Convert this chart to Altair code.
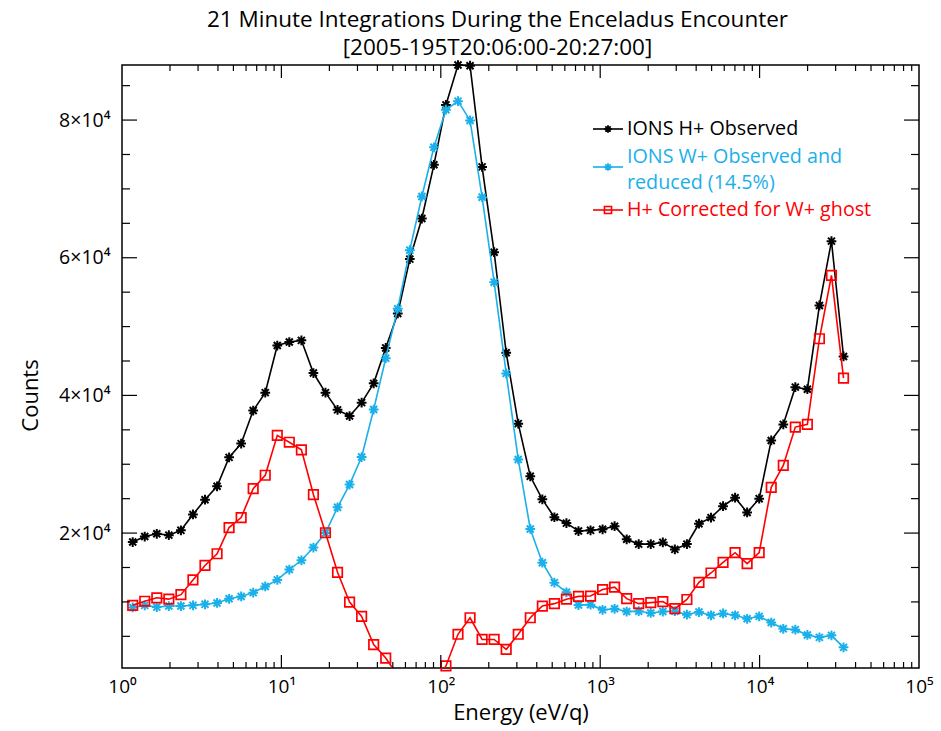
import altair as alt
import pandas as pd

# ---------------- data ----------------
energy = [1.167, 1.389, 1.653, 1.967, 2.342, 2.787, 3.317, 3.948, 4.697, 5.591,
          6.653, 7.919, 9.423, 11.21, 13.35, 15.88, 18.90, 22.50, 26.77, 31.86,
          37.92, 45.13, 53.70, 63.91, 76.06, 90.52, 107.7, 128.2, 152.6, 181.6,
          216.1, 257.2, 306.1, 364.2, 433.5, 515.9, 614.0, 730.7, 869.6, 1035,
          1231, 1466, 1744, 2076, 2471, 2940, 3499, 4165, 4955, 5897,
          7018, 8352, 9940, 11830, 14080, 16750, 19940, 23730, 28240, 33610]

h_observed = [18700, 19500, 19900, 19700, 20400, 22700, 24850, 26800, 31000, 33000,
              37800, 40400, 47250, 47750, 48000, 43250, 40400, 37900, 37000, 38950,
              41750, 46900, 51900, 59800, 65700, 73500, 82200, 88000, 87900, 73200,
              60800, 46200, 35900, 28250, 24900, 22300, 21450, 20300, 20400, 20550,
              21000, 19100, 18400, 18400, 18650, 17630, 18400, 21360, 22250, 23900,
              25140, 23000, 25000, 33460, 35790, 41200, 40900, 53070, 62410, 45660]

w_reduced = [9200, 9500, 9250, 9400, 9400, 9500, 9650, 9850, 10450, 10800,
             11350, 12250, 13200, 14700, 16050, 17900, 20000, 23750, 27050, 31050,
             37950, 45400, 52600, 61100, 68900, 76050, 81500, 82750, 79950, 68800,
             56450, 43200, 30700, 20600, 15700, 12800, 11400, 9550, 9600, 8850,
             9000, 8600, 8650, 8400, 8600, 8650, 8150, 8530, 8050, 8330,
             8050, 7550, 7900, 7000, 6100, 5970, 5200, 4850, 5140, 3400]

h_corrected = [9500, 10100, 10600, 10400, 11050, 13200, 15300, 17000, 20800, 22250,
               26450, 28400, 34200, 33200, 32100, 25600, 20050, 14300, 9980, 7900,
               3800, 1840, -700, -1300, -3200, -2500, 700, 5300, 7700, 4550,
               4550, 3100, 5300, 7700, 9400, 9750, 10400, 10800, 10850, 11800,
               12150, 10470, 9750, 9900, 10050, 9020, 10350, 12850, 14200, 15750,
               17150, 15560, 17150, 26650, 29830, 35400, 35790, 48230, 57430, 42500]

series_names = ["IONS H+ Observed", "IONS W+ Observed and reduced (14.5%)",
                "H+ Corrected for W+ ghost"]
series_colors = ["#000000", "#1AB0EA", "#FF0000"]

x_major = [1, 10, 100, 1000, 10000, 100000]
x_minor = [m * 10 ** k for k in range(5) for m in range(2, 10)]
y_major = [20000, 40000, 60000, 80000]
y_minor = [v for v in range(5000, 88000, 5000) if v % 20000 != 0]

# ---------------- styling ----------------
FONT = "Open Sans"
W, H = 797, 603
ASTER = "M-1,0L1,0M0,-1L0,1M-0.72,-0.72L0.72,0.72M-0.72,0.72L0.72,-0.72"

xscale = alt.Scale(type="log", domain=[1, 100000], nice=False)
yscale = alt.Scale(domain=[400, 88000], nice=False, zero=False)

x_axis = alt.Axis(
    values=x_major, ticks=False, domain=False, grid=False,
    labelExpr="'10' + ['⁰','¹','²','³','⁴','⁵'][round(log(datum.value)/LN10)]",
    labelFont=FONT, labelFontSize=19, labelColor="black", labelPadding=9,
    labelFlush=False,
    title="Energy (eV/q)", titleFont=FONT, titleFontSize=22,
    titleFontWeight="normal", titleColor="black", titlePadding=6,
)
y_axis = alt.Axis(
    values=y_major, ticks=False, domain=False, grid=False,
    labelExpr="format(datum.value/10000, 'd') + '×10⁴'",
    labelFont=FONT, labelFontSize=19.5, labelColor="black", labelPadding=12,
    title="Counts", titleFont=FONT, titleFontSize=22,
    titleFontWeight="normal", titleColor="black", titlePadding=16,
    titleY=330,
)

series_values = [h_observed, w_reduced, h_corrected]
frames = []
for name, vals in zip(series_names, series_values):
    frames.append(pd.DataFrame({"energy": energy, "counts": vals, "series": name}))
df = pd.concat(frames, ignore_index=True)


def X(field):
    return alt.X(field, scale=xscale, axis=x_axis)


def Y(field):
    return alt.Y(field, scale=yscale, axis=y_axis)


layers = []
for name, color in zip(series_names, series_colors):
    sub = df[df["series"] == name]
    line = alt.Chart(sub).mark_line(color=color, strokeWidth=1.6, clip=True).encode(
        x=X("energy:Q"), y=Y("counts:Q"))
    if name.startswith("H+ Corrected"):
        pts = alt.Chart(sub).transform_filter("datum.counts > 0").mark_point(
            shape="square", size=90, filled=False, color=color, strokeWidth=1.7,
            opacity=1)
    else:
        pts = alt.Chart(sub).mark_point(
            shape=ASTER, size=95, filled=False, color=color, strokeWidth=2.0,
            opacity=1)
    pts = pts.encode(x=X("energy:Q"), y=Y("counts:Q"))
    layers += [line, pts]

# ---------------- inward tick marks on all four sides ----------------
def xticks(values, length):
    d = pd.DataFrame({"v": values})
    bottom = alt.Chart(d).mark_rule(color="black", strokeWidth=1.2).encode(
        x=X("v:Q"), y=alt.value(H), y2=alt.value(H - length))
    top = alt.Chart(d).mark_rule(color="black", strokeWidth=1.2).encode(
        x=X("v:Q"), y=alt.value(0), y2=alt.value(length))
    return [bottom, top]


def yticks(values, length):
    d = pd.DataFrame({"v": values})
    left = alt.Chart(d).mark_rule(color="black", strokeWidth=1.2).encode(
        y=Y("v:Q"), x=alt.value(0), x2=alt.value(length))
    right = alt.Chart(d).mark_rule(color="black", strokeWidth=1.2).encode(
        y=Y("v:Q"), x=alt.value(W), x2=alt.value(W - length))
    return [left, right]


tick_layers = (xticks(x_major[1:-1], 13) + xticks(x_minor, 6)
               + yticks(y_major, 15) + yticks(y_minor, 8))

# ---------------- legend (drawn inside the plot) ----------------
one = pd.DataFrame({"k": [0]})
LX0, LX1, LXM, LTX = 471, 501, 486, 505
rows_sym_y = [64, 102, 145]
legend_layers = []
for i, (color, sy) in enumerate(zip(series_colors, rows_sym_y)):
    legend_layers.append(alt.Chart(one).mark_rule(color=color, strokeWidth=1.6).encode(
        x=alt.value(LX0), x2=alt.value(LX1), y=alt.value(sy)))
    if i == 2:
        legend_layers.append(alt.Chart(one).mark_point(
            shape="square", size=50, filled=False, color=color, strokeWidth=1.6,
            opacity=1).encode(x=alt.value(LXM), y=alt.value(sy)))
    else:
        legend_layers.append(alt.Chart(one).mark_point(
            shape=ASTER, size=55, filled=False, color=color, strokeWidth=1.8,
            opacity=1).encode(x=alt.value(LXM), y=alt.value(sy)))

legend_text = [("IONS H+ Observed", series_colors[0], 64),
               ("IONS W+ Observed and", series_colors[1], 92),
               ("reduced (14.5%)", series_colors[1], 117.5),
               ("H+ Corrected for W+ ghost", series_colors[2], 145)]
for txt, color, ty in legend_text:
    legend_layers.append(alt.Chart(one).mark_text(
        text=txt, align="left", baseline="middle", font=FONT, fontSize=19.7,
        lineHeight=22, color=color).encode(x=alt.value(LTX), y=alt.value(ty)))

chart = alt.layer(*layers, *tick_layers, *legend_layers).properties(
    width=W, height=H,
    background="white",
    title=alt.TitleParams(
        text=["21 Minute Integrations During the Enceladus Encounter",
              "[2005-195T20:06:00-20:27:00]"],
        font=FONT, fontSize=22.5, fontWeight="normal", color="black",
        anchor="middle", dx=-23, offset=-3, lineHeight=28),
    autosize=alt.AutoSizeParams(type="none"),
    padding={"left": 122, "top": 65, "right": 22, "bottom": 63},
).configure_view(stroke="black", strokeWidth=1.5)

chart.save("out.html", embed_options={"renderer": "svg", "actions": False})
